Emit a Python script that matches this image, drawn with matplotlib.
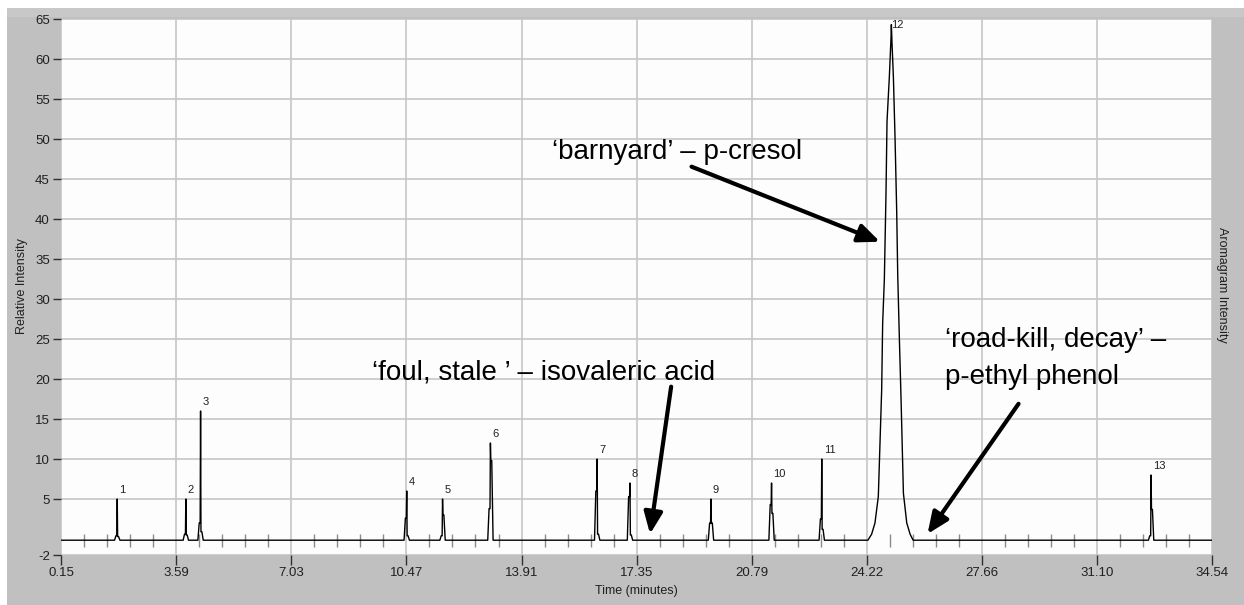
import matplotlib
matplotlib.use("Agg")
import matplotlib.pyplot as plt
from matplotlib.patches import Rectangle

plt.rcParams['font.family'] = ['Liberation Sans', 'DejaVu Sans']

# ---------------- data ----------------
x_tick_labels = ['0.15', '3.59', '7.03', '10.47', '13.91', '17.35',
                 '20.79', '24.22', '27.66', '31.10', '34.54']
y_ticks = [-2, 5, 10, 15, 20, 25, 30, 35, 40, 45, 50, 55, 60, 65]

baseline = -0.15

# narrow peaks: id, retention time, apex, left/right shoulder heights
peak_ids = ['1', '2', '3', '4', '5', '6', '7', '8', '9', '10', '11', '13']
peak_times = [1.83, 3.88, 4.32, 10.48, 11.55, 12.98, 16.17, 17.15, 19.57, 21.38, 22.88, 32.72]
peak_heights = [5.0, 5.0, 16.0, 6.0, 5.0, 12.0, 10.0, 7.0, 5.0, 7.0, 10.0, 8.0]
shoulder_left = [0.4, 0.6, 2.0, 2.6, 0.4, 3.8, 6.0, 5.3, 2.0, 4.3, 2.5, 0.4]
shoulder_right = [0.3, 0.5, 0.9, 0.4, 3.0, 9.8, 0.6, 0.5, 2.0, 3.2, 1.2, 3.7]

# broad peak 12 (p-cresol) profile
p12_label = '12'
p12_time = [24.26, 24.37, 24.47, 24.57, 24.67, 24.70, 24.75, 24.80, 24.83, 24.90,
            24.95, 24.96, 24.98, 25.02, 25.07, 25.12, 25.15, 25.20, 25.25, 25.32,
            25.42, 25.52, 25.61]
p12_int = [-0.15, 0.6, 2.0, 5.3, 18.6, 27.0, 32.4, 43.3, 52.2, 57.8,
           62.7, 64.3, 61.9, 57.8, 50.1, 40.8, 33.0, 24.9, 17.4, 5.7,
           2.0, 0.6, -0.15]

# ---------------- figure ----------------
W, H = 1244, 605
fig = plt.figure(figsize=(W / 100, H / 100), dpi=100)
fig.patch.set_facecolor('white')


def fx(px):
    return px / W


def fy(py):
    return 1 - py / H


fig.add_artist(Rectangle((fx(7), fy(605)), fx(1244) - fx(7), fy(8) - fy(605),
                         transform=fig.transFigure, facecolor='#c0c0c0',
                         edgecolor='none', zorder=0))
fig.add_artist(Rectangle((fx(7), fy(17)), fx(1244) - fx(7), fy(8) - fy(17),
                         transform=fig.transFigure, facecolor='#c8c8c8',
                         edgecolor='none', zorder=0))

ax = fig.add_axes([fx(61), fy(555), fx(1212) - fx(61), fy(19) - fy(555)])
ax.set_facecolor('#fdfdfd')
for s in ax.spines.values():
    s.set_visible(False)

x_ticks = [float(v) for v in x_tick_labels]
ax.set_xlim(x_ticks[0], x_ticks[-1])
ax.set_ylim(-2, 65)
ax.set_xticks(x_ticks)
ax.set_xticklabels(x_tick_labels)
ax.set_yticks(y_ticks)
ax.set_yticklabels([str(v) for v in y_ticks])
ax.tick_params(axis='x', direction='out', length=7, width=1, color='#303030',
               pad=2, labelsize=9.5, labelcolor='#202020')
ax.tick_params(axis='y', direction='out', length=6, width=1, color='#303030',
               pad=2, labelsize=9.5, labelcolor='#202020')
ax.set_axisbelow(True)
ax.grid(True, color='#c6c6c6', lw=1.2)

# build the trace
trace_t = [x_ticks[0]]
trace_v = [baseline]
dt = 0.04
events = []
for t, h, sl, sr in zip(peak_times, peak_heights, shoulder_left, shoulder_right):
    events.append((t, [(t - 2 * dt, baseline), (t - dt, sl), (t - dt * 0.3, sl),
                       (t, h), (t + dt * 0.3, sr), (t + dt, sr), (t + 2 * dt, baseline)]))
events.append((p12_time[0], list(zip(p12_time, p12_int))))
events.sort(key=lambda e: e[0])
for _, pts in events:
    for a, b in pts:
        trace_t.append(a)
        trace_v.append(b)
trace_t.append(x_ticks[-1])
trace_v.append(baseline)
ax.plot(trace_t, trace_v, color='black', lw=1.0, zorder=3)

# small marks on baseline between the major ticks
minor = []
for a, b in zip(x_ticks[:-1], x_ticks[1:]):
    for k in range(1, 5):
        minor.append(a + (b - a) * k / 5)
ax.vlines(minor, -1.0, 0.6, color='#8a8a8a', lw=1.0, zorder=2)

# peak labels
for pid, t, h in zip(peak_ids, peak_times, peak_heights):
    ax.text(t + 0.06, h + 1.1, pid, fontsize=8, color='#202020',
            ha='left', va='center', zorder=4)
ax.text(p12_time[11] + 0.0, 64.2, p12_label, fontsize=8, color='#202020',
        ha='left', va='center', zorder=4)

# annotations
arrow_kw = dict(arrowstyle='-|>,head_length=0.65,head_width=0.28',
                lw=3, color='black', mutation_scale=20, shrinkA=0, shrinkB=0)
ax.text(14.81, 47.45, '\u2018barnyard\u2019 \u2013 p-cresol', fontsize=20,
        ha='left', va='baseline', zorder=5)
ax.annotate('', xy=(24.62, 37.16), xytext=(18.99, 46.54), arrowprops=arrow_kw,
            zorder=5)
ax.text(9.43, 19.96, '\u2018foul, stale \u2019 \u2013 isovaleric acid', fontsize=20,
        ha='left', va='baseline', zorder=5)
ax.annotate('', xy=(17.75, 0.63), xytext=(18.38, 19.04), arrowprops=arrow_kw,
            zorder=5)
ax.text(26.55, 24.0, '\u2018road-kill, decay\u2019 \u2013', fontsize=20,
        ha='left', va='baseline', zorder=5)
ax.text(26.55, 19.4, 'p-ethyl phenol', fontsize=20,
        ha='left', va='baseline', zorder=5)
ax.annotate('', xy=(26.04, 0.63), xytext=(28.76, 16.9), arrowprops=arrow_kw,
            zorder=5)

# axis titles
fig.text(fx(636.5), fy(590.7), 'Time (minutes)', fontsize=9, ha='center',
         va='center', color='#202020')
fig.text(fx(21.7), fy(286), 'Relative Intensity', fontsize=9, ha='center',
         va='center', rotation=90, color='#202020')
fig.text(fx(1221.7), fy(285), 'Aromagram Intensity', fontsize=9, ha='center',
         va='center', rotation=-90, color='#202020')

fig.savefig('out.png', dpi=100, facecolor=fig.get_facecolor())
